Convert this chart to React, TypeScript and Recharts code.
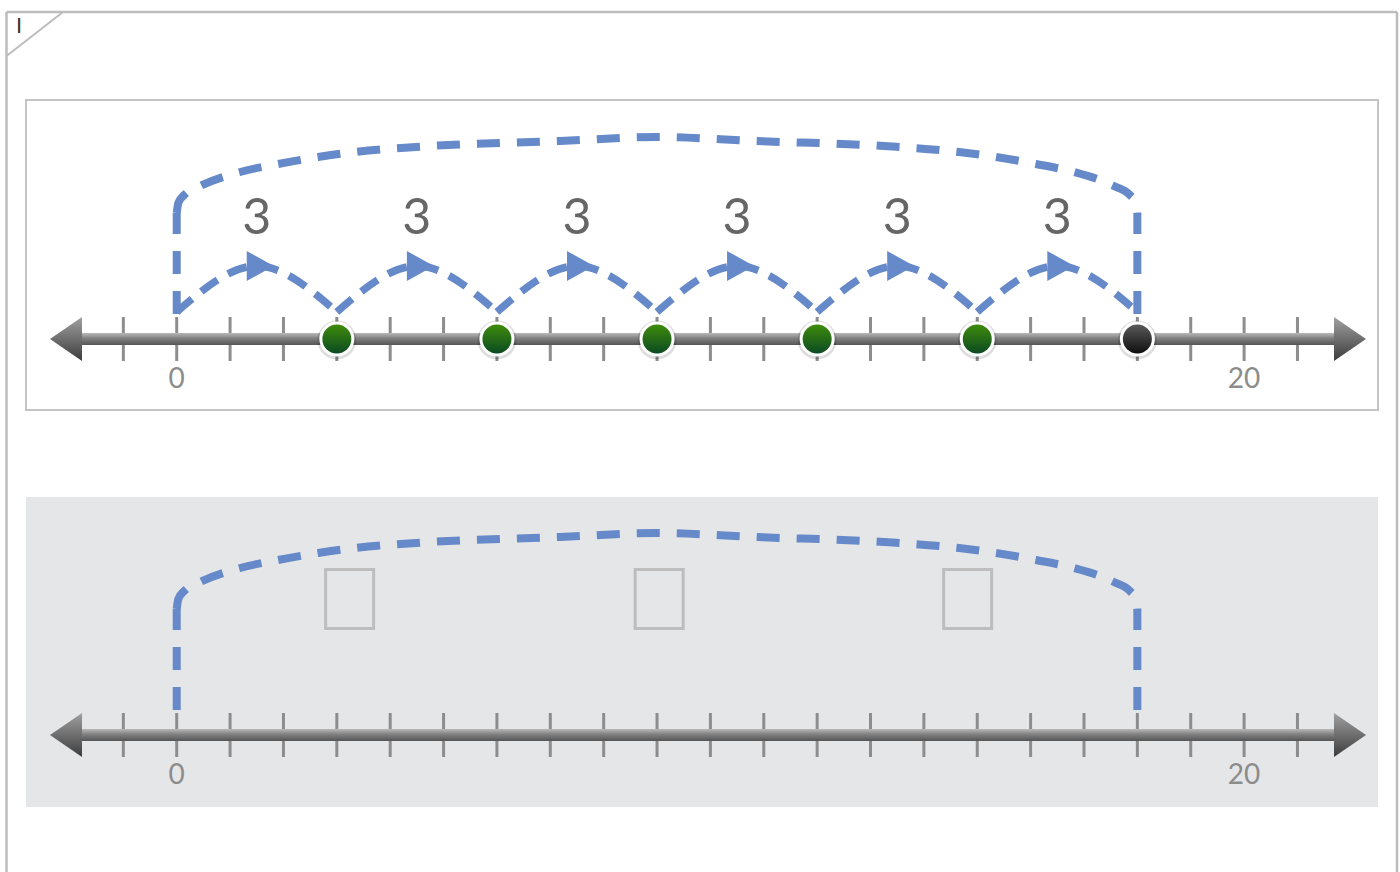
import React from "react";
import {
  ComposedChart,
  XAxis,
  YAxis,
  Line,
  Scatter,
  ReferenceLine,
} from "recharts";

// number line: a tick on every whole number, only 0 and 20 are written
const tickValues = [
  -1, 0, 1, 2, 3, 4, 5, 6, 7, 8, 9, 10, 11, 12, 13, 14, 15, 16, 17, 18, 19, 20,
  21,
];
const labelledTicks = [0, 20];
const xDomain = [-2.824, 22.509];
const arrowEnds = [-2.374, 22.284];

// six jumps of 3, from 0 to 18
const jumpStarts = [0, 3, 6, 9, 12, 15];
const jumpLength = 3;
const jumpLabels = ["3", "3", "3", "3", "3", "3"];
const jumpBase = 27;
const jumpPeak = 73;
const jumpLabelHeight = 124;

const landings = [3, 6, 9, 12, 15, 18];
const landingKinds = ["green", "green", "green", "green", "green", "black"];

// the big bracket over 0..18
const bracketLegs = [0, 18];
const bracketLegBottom = 25;
const bracketLegTop = 126;
const bracketX = [
  0, 0.03, 0.14, 0.44, 1.19, 1.9, 2.65, 3.34, 4.75, 7.18, 9, 10.82, 13.25,
  14.66, 15.35, 16.1, 16.81, 17.56, 17.86, 17.97, 18,
];
const bracketY = [
  126, 136, 144, 153, 167, 175, 182, 187, 193, 198, 202, 198, 193, 187, 182,
  175, 167, 153, 144, 136, 126,
];

// empty answer boxes (lower panel)
const boxX = [3.24, 9.04, 14.82];
const boxHeight = 136;

const BLUE = "#6689c9";

const jumpSeries = jumpStarts.map((s) => [
  { x: s, y: jumpBase },
  { x: s + jumpLength / 2, y: jumpPeak },
  { x: s + jumpLength, y: jumpBase },
]);
const jumpLabelData = jumpStarts.map((s, i) => ({
  x: s + jumpLength / 2,
  y: jumpLabelHeight,
  label: jumpLabels[i],
}));
const landingData = landings.map((v, i) => ({ x: v, y: 0, kind: landingKinds[i] }));
const tickData = tickValues.map((v) => ({ x: v, y: 0 }));
const legSeries = bracketLegs.map((v) => [
  { x: v, y: bracketLegBottom },
  { x: v, y: bracketLegTop },
]);
const bracketData = bracketX.map((v, i) => ({ x: v, y: bracketY[i] }));
const boxData = boxX.map((v) => ({ x: v, y: boxHeight }));

function NumberLineLabel(props: any) {
  const { x, y, payload } = props;
  if (!labelledTicks.includes(payload.value)) return <g />;
  return (
    <text
      x={x}
      y={y + 38}
      textAnchor="middle"
      dominantBaseline="central"
      fontSize={28}
      fill="#8c8c8c"
      fontFamily="Lato, sans-serif"
    >
      {payload.value}
    </text>
  );
}

function TickMark(props: any) {
  const { cx, cy } = props;
  return (
    <g>
      <line x1={cx} x2={cx} y1={cy - 22} y2={cy - 6} stroke="#8d8d8d" strokeWidth={3} />
      <line x1={cx} x2={cx} y1={cy + 6} y2={cy + 22} stroke="#8d8d8d" strokeWidth={3} />
    </g>
  );
}

function NumberLineBar(props: any) {
  const { x1, x2, y1 } = props;
  const head = 32;
  return (
    <g>
      <rect x={x1 + head - 2} y={y1 - 6} width={x2 - x1 - 2 * head + 4} height={12} fill="url(#barGrad)" />
      <polygon
        points={`${x1},${y1} ${x1 + head},${y1 - 22} ${x1 + head},${y1 + 22}`}
        fill="url(#headGrad)"
      />
      <polygon
        points={`${x2},${y1} ${x2 - head},${y1 - 22} ${x2 - head},${y1 + 22}`}
        fill="url(#headGrad)"
      />
    </g>
  );
}

function ArrowDot(props: any) {
  const { cx, cy, index } = props;
  if (index !== 1) return <g key={`d${index}`} />;
  return (
    <polygon
      key={`d${index}`}
      points={`${cx - 10},${cy - 15} ${cx - 10},${cy + 15} ${cx + 17},${cy}`}
      fill={BLUE}
    />
  );
}

function LandingDot(props: any) {
  const { cx, cy, payload } = props;
  const fill = payload.kind === "black" ? "url(#dotBlack)" : "url(#dotGreen)";
  return (
    <g>
      <circle cx={cx} cy={cy + 1} r={19.5} fill="rgba(0,0,0,0.13)" />
      <circle cx={cx} cy={cy} r={17.5} fill="#ffffff" />
      <circle cx={cx} cy={cy} r={14.5} fill={fill} />
    </g>
  );
}

function JumpLabel(props: any) {
  const { cx, cy, payload } = props;
  return (
    <text
      x={cx}
      y={cy}
      textAnchor="middle"
      dominantBaseline="central"
      fontSize={50}
      fill="#666666"
      fontFamily="Lato, sans-serif"
    >
      {payload.label}
    </text>
  );
}

function AnswerBox(props: any) {
  const { cx, cy } = props;
  return (
    <rect x={cx - 24} y={cy - 29.5} width={48} height={59} fill="none" stroke="#bdbdbd" strokeWidth={3} />
  );
}

function Gradients() {
  return (
    <defs>
      <linearGradient id="barGrad" x1="0" y1="0" x2="0" y2="1">
        <stop offset="0%" stopColor="#b8b8b8" />
        <stop offset="45%" stopColor="#808080" />
        <stop offset="100%" stopColor="#555555" />
      </linearGradient>
      <linearGradient id="headGrad" x1="0" y1="0" x2="0" y2="1">
        <stop offset="0%" stopColor="#a0a0a0" />
        <stop offset="100%" stopColor="#3c3c3c" />
      </linearGradient>
      <linearGradient id="dotGreen" x1="0" y1="0" x2="0" y2="1">
        <stop offset="0%" stopColor="#3f8c0c" />
        <stop offset="100%" stopColor="#0b4a22" />
      </linearGradient>
      <linearGradient id="dotBlack" x1="0" y1="0" x2="0" y2="1">
        <stop offset="0%" stopColor="#5a5a5a" />
        <stop offset="100%" stopColor="#0e0e0e" />
      </linearGradient>
    </defs>
  );
}

function Panel({ plotHeight, worked }: { plotHeight: number; worked: boolean }) {
  return (
    <ComposedChart width={1352} height={310} margin={{ top: 0, right: 0, bottom: 0, left: 0 }}>
      {Gradients()}
      <XAxis
        type="number"
        dataKey="x"
        domain={xDomain}
        ticks={tickValues}
        interval={0}
        height={310 - plotHeight}
        tickSize={0}
        tickMargin={0}
        axisLine={false}
        tickLine={false}
        tick={<NumberLineLabel />}
      />
      <YAxis type="number" dataKey="y" domain={[0, plotHeight]} hide width={0} />
      <ReferenceLine
        segment={[
          { x: arrowEnds[0], y: 0 },
          { x: arrowEnds[1], y: 0 },
        ]}
        ifOverflow="visible"
        shape={<NumberLineBar />}
      />
      {legSeries.map((d, i) => (
        <Line
          key={`leg${i}`}
          data={d}
          dataKey="y"
          type="linear"
          stroke={BLUE}
          strokeWidth={8}
          strokeDasharray="23 17"
          dot={false}
          activeDot={false}
          isAnimationActive={false}
        />
      ))}
      <Line
        data={bracketData}
        dataKey="y"
        type="monotoneX"
        stroke={BLUE}
        strokeWidth={8}
        strokeDasharray="23 17"
        dot={false}
        activeDot={false}
        isAnimationActive={false}
      />
      {worked &&
        jumpSeries.map((d, i) => (
          <Line
            key={`jump${i}`}
            data={d}
            dataKey="y"
            type="natural"
            stroke={BLUE}
            strokeWidth={7.5}
            strokeDasharray="20 12"
            dot={<ArrowDot />}
            activeDot={false}
            isAnimationActive={false}
          />
        ))}
      <Scatter data={tickData} dataKey="y" shape={<TickMark />} isAnimationActive={false} />
      {worked && (
        <Scatter data={jumpLabelData} dataKey="y" shape={<JumpLabel />} isAnimationActive={false} />
      )}
      {worked && (
        <Scatter data={landingData} dataKey="y" shape={<LandingDot />} isAnimationActive={false} />
      )}
      {!worked && <Scatter data={boxData} dataKey="y" shape={<AnswerBox />} isAnimationActive={false} />}
    </ComposedChart>
  );
}

export default function App() {
  return (
    <div
      style={{
        position: "absolute",
        left: 0,
        top: 0,
        width: 1400,
        height: 872,
        background: "#ffffff",
        overflow: "hidden",
      }}
    >
      <svg width={1400} height={872} style={{ position: "absolute", left: 0, top: 0 }}>
        <line x1={6.5} y1={12} x2={1397} y2={12} stroke="#bdbdbd" strokeWidth={2.5} />
        <line x1={6.5} y1={12} x2={6.5} y2={872} stroke="#bdbdbd" strokeWidth={2.5} />
        <line x1={1397} y1={12} x2={1397} y2={872} stroke="#bdbdbd" strokeWidth={2.5} />
        <line x1={6.5} y1={56} x2={63} y2={12} stroke="#bdbdbd" strokeWidth={2} />
        <text x={16} y={33} fontSize={22} fill="#333" fontFamily="Liberation Sans, sans-serif">
          I
        </text>
      </svg>
      <div
        style={{
          position: "absolute",
          left: 25,
          top: 99,
          width: 1354,
          height: 312,
          border: "2px solid #c4c4c4",
          boxSizing: "border-box",
        }}
      />
      <div style={{ position: "absolute", left: 26, top: 100, width: 1352, height: 310 }}>
        <Panel plotHeight={239} worked={true} />
      </div>
      <div
        style={{
          position: "absolute",
          left: 26,
          top: 497,
          width: 1352,
          height: 310,
          background: "#e5e6e8",
        }}
      >
        <Panel plotHeight={238} worked={false} />
      </div>
    </div>
  );
}
